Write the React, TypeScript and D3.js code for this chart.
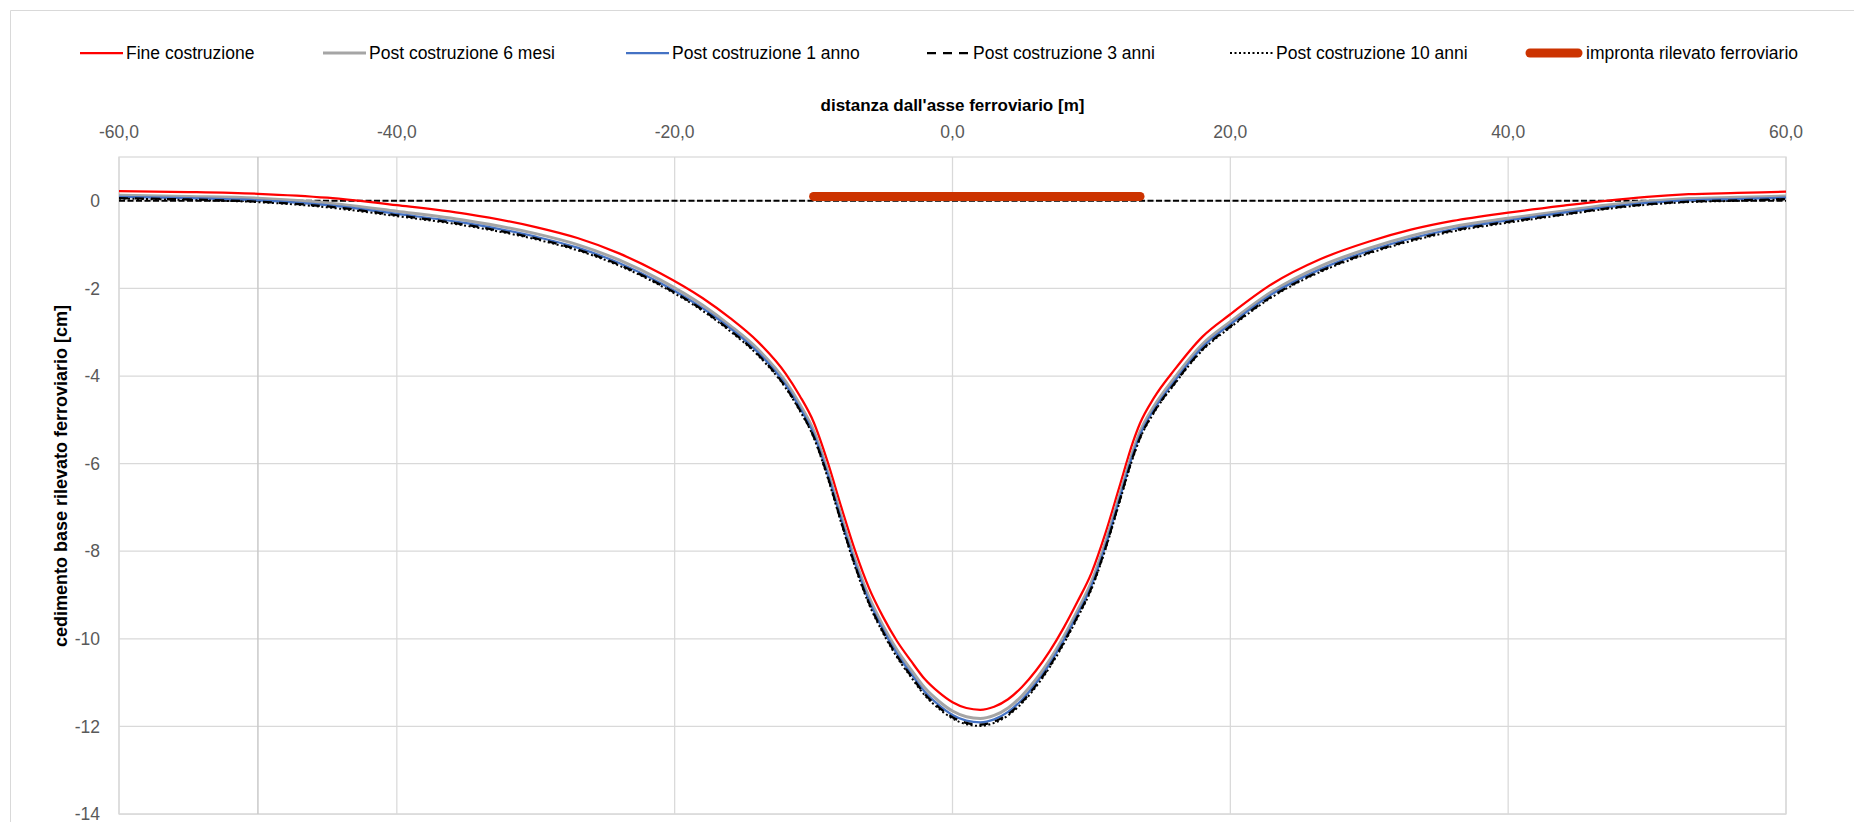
import React from 'react';
import * as d3 from 'd3';

// ---------- data ----------
const X_VALUES = [-60, -55, -50, -45, -40, -35, -30, -27, -24, -21, -18, -16, -14, -12, -11, -10, -9, -8, -7, -6, -5, -4, -3, -2, -1, 0, 1, 2, 3, 4, 5, 6, 7, 8, 9, 10, 11, 12, 13, 13.5, 14.5, 16, 18, 20, 23, 26.5, 30, 33, 36, 40, 44, 47, 50, 53, 56.5, 60];

const FINE_COSTRUZIONE = [0.22, 0.20, 0.16, 0.07, -0.10, -0.30, -0.60, -0.85, -1.20, -1.66, -2.22, -2.68, -3.22, -3.95, -4.45, -5.05, -5.95, -7.00, -8.00, -8.85, -9.50, -10.05, -10.50, -10.92, -11.22, -11.45, -11.58, -11.62, -11.55, -11.38, -11.10, -10.73, -10.28, -9.75, -9.15, -8.50, -7.60, -6.55, -5.50, -5.08, -4.50, -3.85, -3.10, -2.59, -1.90, -1.33, -0.93, -0.66, -0.46, -0.27, -0.11, 0.00, 0.09, 0.15, 0.18, 0.21];

const POST_6_MESI = [0.13, 0.10, 0.06, -0.05, -0.24, -0.45, -0.75, -1.00, -1.35, -1.81, -2.38, -2.85, -3.39, -4.13, -4.64, -5.24, -6.15, -7.20, -8.20, -9.05, -9.70, -10.25, -10.70, -11.12, -11.42, -11.65, -11.78, -11.82, -11.75, -11.58, -11.30, -10.93, -10.48, -9.95, -9.35, -8.70, -7.80, -6.75, -5.70, -5.27, -4.69, -4.03, -3.27, -2.76, -2.07, -1.49, -1.08, -0.80, -0.59, -0.40, -0.23, -0.10, -0.01, 0.05, 0.08, 0.11];

const POST_1_ANNO = [0.09, 0.06, 0.01, -0.10, -0.30, -0.51, -0.82, -1.07, -1.42, -1.88, -2.45, -2.91, -3.46, -4.21, -4.72, -5.32, -6.23, -7.29, -8.29, -9.14, -9.79, -10.34, -10.79, -11.21, -11.51, -11.74, -11.87, -11.91, -11.84, -11.67, -11.39, -11.02, -10.57, -10.04, -9.44, -8.79, -7.89, -6.83, -5.78, -5.35, -4.77, -4.11, -3.34, -2.82, -2.13, -1.56, -1.14, -0.86, -0.65, -0.45, -0.27, -0.15, -0.05, 0.01, 0.04, 0.07];

const POST_3_ANNI = [0.06, 0.03, -0.02, -0.13, -0.33, -0.55, -0.86, -1.11, -1.46, -1.92, -2.49, -2.96, -3.51, -4.26, -4.77, -5.38, -6.28, -7.34, -8.34, -9.19, -9.84, -10.39, -10.84, -11.26, -11.56, -11.79, -11.92, -11.96, -11.89, -11.72, -11.44, -11.07, -10.62, -10.09, -9.49, -8.84, -7.94, -6.88, -5.83, -5.41, -4.82, -4.16, -3.39, -2.87, -2.18, -1.60, -1.18, -0.90, -0.68, -0.48, -0.31, -0.18, -0.08, -0.02, 0.01, 0.04];

const POST_10_ANNI = [0.05, 0.02, -0.03, -0.15, -0.35, -0.57, -0.88, -1.13, -1.48, -1.94, -2.51, -2.98, -3.53, -4.28, -4.79, -5.40, -6.31, -7.37, -8.37, -9.22, -9.87, -10.42, -10.87, -11.29, -11.59, -11.82, -11.95, -11.99, -11.92, -11.75, -11.47, -11.10, -10.65, -10.12, -9.52, -8.87, -7.97, -6.91, -5.86, -5.43, -4.84, -4.18, -3.41, -2.89, -2.20, -1.62, -1.20, -0.92, -0.70, -0.50, -0.32, -0.19, -0.09, -0.03, 0.00, 0.03];

const IMPRONTA_X = [-10, 13.5];
const IMPRONTA_Y = [0.1, 0.1];

const X_TICKS = [-60, -40, -20, 0, 20, 40, 60];
const Y_TICKS = [0, -2, -4, -6, -8, -10, -12, -14];
const Y_AXIS_CROSS_X = -50;

const SERIES_NAMES = [
  'Fine costruzione',
  'Post costruzione 6 mesi',
  'Post costruzione 1 anno',
  'Post costruzione 3 anni',
  'Post costruzione 10 anni',
  'impronta rilevato ferroviario',
];

const X_TITLE = "distanza dall'asse ferroviario [m]";
const Y_TITLE = 'cedimento base rilevato ferroviario [cm]';

// ---------- styles ----------
const FONT = "'Liberation Sans', Arial, sans-serif";
const STYLES = [
  { color: '#FF0000', width: 2.25, dash: null },
  { color: '#A5A5A5', width: 3, dash: null },
  { color: '#4472C4', width: 2.25, dash: null },
  { color: '#000000', width: 2.25, dash: '9,7' },
  { color: '#000000', width: 2, dash: '2,2.5' },
  { color: '#CC3300', width: 9, dash: null },
];
const LEGEND_STARTS = [80, 323, 626, 927, 1230, 1530];

export default function App() {
  const W = 1854;
  const H = 822;
  const left = 119, right = 1786, top = 157, bottom = 814;

  const x = d3.scaleLinear().domain([-60, 60]).range([left, right]);
  const y = d3.scaleLinear().domain([-14, 1]).range([bottom, top]);

  const seriesValues = [FINE_COSTRUZIONE, POST_6_MESI, POST_1_ANNO, POST_3_ANNI, POST_10_ANNI];

  const line = d3
    .line<[number, number]>()
    .x((d) => x(d[0]))
    .y((d) => y(d[1]))
    .curve(d3.curveMonotoneX);

  const linear = d3
    .line<[number, number]>()
    .x((d) => x(d[0]))
    .y((d) => y(d[1]));

  const fmtX = (v: number) => d3.format('.1f')(v).replace('.', ',').replace('−', '-');

  return (
    <svg
      width={W}
      height={H}
      style={{ position: 'absolute', left: 0, top: 0, background: '#fff' }}
      fontFamily={FONT}
    >
      <rect x={0} y={0} width={W} height={H} fill="#fff" />
      {/* chart area border */}
      <line x1={10.5} y1={10.5} x2={W} y2={10.5} stroke="#d9d9d9" strokeWidth={1} />
      <line x1={10.5} y1={10.5} x2={10.5} y2={H} stroke="#d9d9d9" strokeWidth={1} />

      {/* gridlines */}
      {Y_TICKS.map((t) => (
        <line key={'hy' + t} x1={left} x2={right} y1={y(t)} y2={y(t)} stroke="#d9d9d9" strokeWidth={1.25} />
      ))}
      {X_TICKS.map((t) => (
        <line key={'vx' + t} x1={x(t)} x2={x(t)} y1={top} y2={bottom} stroke="#d9d9d9" strokeWidth={1.25} />
      ))}
      <rect x={left} y={top} width={right - left} height={bottom - top} fill="none" stroke="#d9d9d9" strokeWidth={1.25} />
      {/* vertical axis line */}
      <line x1={x(Y_AXIS_CROSS_X)} x2={x(Y_AXIS_CROSS_X)} y1={top} y2={bottom} stroke="#c9c9c9" strokeWidth={1.5} />

      {/* horizontal axis line at 0 (dashed) */}
      <line x1={left} x2={right} y1={y(0)} y2={y(0)} stroke="#000" strokeWidth={2} strokeDasharray="6,2.5" />

      {/* x tick labels (top) */}
      {X_TICKS.map((t) => (
        <text key={'xl' + t} x={x(t)} y={132} textAnchor="middle" dy="0.35em" fontSize={17.5} fill="#595959">
          {fmtX(t)}
        </text>
      ))}
      {/* y tick labels */}
      {Y_TICKS.map((t) => (
        <text key={'yl' + t} x={100} y={y(t)} textAnchor="end" dy="0.35em" fontSize={17.5} fill="#595959">
          {String(t)}
        </text>
      ))}

      {/* axis titles */}
      <text x={(left + right) / 2} y={105} textAnchor="middle" dy="0.35em" fontSize={17} fontWeight="bold" fill="#000">
        {X_TITLE}
      </text>
      <text
        transform={`translate(61, 476) rotate(-90)`}
        textAnchor="middle"
        dy="0.35em"
        fontSize={18}
        fontWeight="bold"
        fill="#000"
      >
        {Y_TITLE}
      </text>

      {/* impronta */}
      <path
        d={linear(IMPRONTA_X.map((v, i) => [v, IMPRONTA_Y[i]] as [number, number])) || ''}
        stroke={STYLES[5].color}
        strokeWidth={STYLES[5].width}
        strokeLinecap="round"
        fill="none"
      />

      {/* series */}
      {seriesValues.map((vals, i) => (
        <path
          key={'s' + i}
          d={line(X_VALUES.map((xv, j) => [xv, vals[j]] as [number, number])) || ''}
          fill="none"
          stroke={STYLES[i].color}
          strokeWidth={STYLES[i].width}
          strokeDasharray={STYLES[i].dash || undefined}
          strokeLinejoin="round"
        />
      ))}

      {/* legend */}
      {SERIES_NAMES.map((name, i) => {
        const sx = LEGEND_STARTS[i];
        const ly = 53;
        const isBand = i === 5;
        const len = isBand ? 48 : 43;
        const tx = isBand ? sx + 56 : sx + 46;
        return (
          <g key={'lg' + i}>
            <line
              x1={sx}
              x2={sx + len}
              y1={ly}
              y2={ly}
              stroke={STYLES[i].color}
              strokeWidth={STYLES[i].width}
              strokeDasharray={STYLES[i].dash || undefined}
              strokeLinecap={isBand ? 'round' : 'butt'}
            />
            <text x={tx} y={ly} dy="0.35em" fontSize={17.5} fill="#000">
              {name}
            </text>
          </g>
        );
      })}
    </svg>
  );
}
